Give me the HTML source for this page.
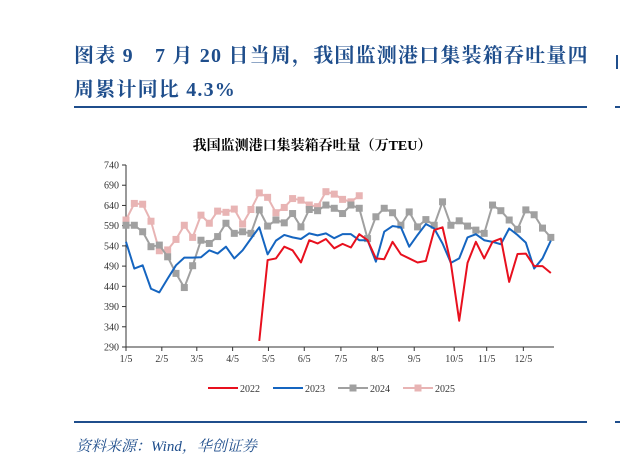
<!DOCTYPE html>
<html><head><meta charset="utf-8"><style>
body{margin:0;background:#fff;width:620px;height:457px;overflow:hidden;position:relative;font-family:"Liberation Serif","Noto Serif CJK SC",serif}
.t{position:absolute;left:74px;color:#1f4e8c;font-weight:bold;font-size:20px;letter-spacing:1.2px;white-space:nowrap}
</style></head><body>
<div class="t" style="top:39px">图表 9　7 月 20 日当周，我国监测港口集装箱吞吐量四</div>
<div class="t" style="top:73px">周累计同比 4.3%</div>
<div style="position:absolute;left:74px;top:106px;width:513px;height:2px;background:#1f4e8c"></div>
<div style="position:absolute;left:74px;top:421px;width:513px;height:2px;background:#1f4e8c"></div>
<div style="position:absolute;left:615px;top:106px;width:5px;height:2px;background:#1f4e8c"></div>
<div style="position:absolute;left:615px;top:421px;width:5px;height:2px;background:#1f4e8c"></div>
<div style="position:absolute;left:616px;top:55px;width:2px;height:14px;background:#1f4e8c"></div>
<div style="position:absolute;left:76px;top:435px;font-size:15px;font-style:italic;color:#1f4e8c;white-space:nowrap">资料来源：Wind，华创证券</div>
<svg id="c" width="620" height="457" style="position:absolute;left:0;top:0"></svg>
<script>
const xLabels=["1/5","2/5","3/5","4/5","5/5","6/5","7/5","8/5","9/5","10/5","11/5","12/5"];
const xLabelWeeks=[0,4.3,8.5,12.8,17.1,21.4,25.8,30.2,34.6,39.4,43.3,47.7];
const yTicks=[290,340,390,440,490,540,590,640,690,740];
const s2022=[null,null,null,null,null,null,null,null,null,null,null,null,null,null,null,null,305,505,509,538,529,499,554,546,557,534,545,536,569,554,509,507,550,519,509,499,503,579,586,497,355,498,550,509,550,558,451,520,521,490,490,473];
const s2023=[550,484,492,434,425,459,492,511,511,512,529,521,538,509,529,558,586,519,553,567,561,557,571,566,571,559,569,569,554,554,501,575,589,586,538,567,594,583,546,498,509,561,569,554,550,544,583,567,548,484,509,553];
const s2024=[591,591,575,538,542,513,472,437,491,554,546,563,596,571,575,571,629,589,604,597,620,587,630,627,641,633,620,641,633,558,612,633,622,591,624,587,605,591,649,591,602,589,579,571,641,627,604,581,629,617,584,561];
const s2025=[604,645,643,601,528,530,556,591,561,616,596,626,623,631,594,630,671,660,622,635,657,653,641,637,674,668,655,649,664];
const svg=document.getElementById('c');const NS='http://www.w3.org/2000/svg';
const X=i=>126+i*8.33, Y=v=>165+(740-v)/450*182;
function mk(t,a,p){const e=document.createElementNS(NS,t);for(const k in a)e.setAttribute(k,a[k]);(p||svg).appendChild(e);return e;}
const tt=mk('text',{x:312,y:150,'text-anchor':'middle','font-size':14,'font-weight':'bold',fill:'#000','font-family':'"Liberation Serif","Noto Serif CJK SC",serif'});
tt.textContent='我国监测港口集装箱吞吐量（万TEU）';


const ax=mk('path',{d:`M126,165V347H554`,stroke:'#333','stroke-width':1,fill:'none'});


yTicks.forEach(v=>{mk('line',{x1:122,x2:126,y1:Y(v),y2:Y(v),stroke:'#333'});
const t=mk('text',{x:119,y:Y(v)+3.5,'text-anchor':'end','font-size':10,fill:'#333'});t.textContent=v;

});
xLabels.forEach((l,k)=>{const x=X(xLabelWeeks[k]);mk('line',{x1:x,x2:x,y1:347,y2:351,stroke:'#333'});
const t=mk('text',{x:x,y:362,'text-anchor':'middle','font-size':10,fill:'#333'});t.textContent=l;

});
function line(arr,col,name,marker){let d='';arr.forEach((v,i)=>{if(v==null)return;d+=(d?'L':'M')+X(i)+','+Y(v);});
const p=mk('path',{d:d,stroke:col,'stroke-width':2,fill:'none','stroke-linejoin':'round'});


if(marker)arr.forEach((v,i)=>{if(v==null)return;const r=mk('rect',{x:X(i)-3.5,y:Y(v)-3.5,width:7,height:7,fill:col});

});}
line(s2025,'#e8b4b4','series-2025',true);
line(s2024,'#a0a0a0','series-2024',true);
line(s2023,'#1565c0','series-2023',false);
line(s2022,'#e8101e','series-2022',false);
const leg=[['2022','#e8101e',208,false],['2023','#1565c0',273,false],['2024','#a0a0a0',338,true],['2025','#e8b4b4',403,true]];
leg.forEach(([n,c,x,m])=>{const g=mk('g',{});


mk('line',{x1:x,x2:x+30,y1:388,y2:388,stroke:c,'stroke-width':2},g);
if(m)mk('rect',{x:x+11.5,y:384.5,width:7,height:7,fill:c},g);
const t=mk('text',{x:x+32,y:392,'font-size':10,fill:'#333'},g);t.textContent=n;});
</script>
</body></html>
